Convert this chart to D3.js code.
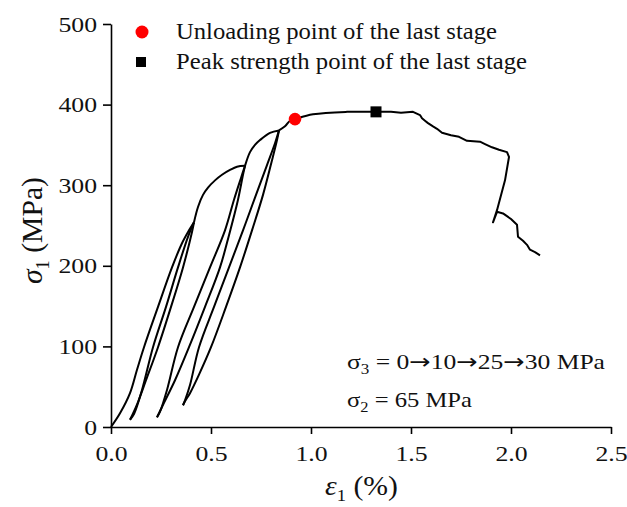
<!DOCTYPE html>
<html>
<head>
<meta charset="utf-8">
<script src="https://cdn.jsdelivr.net/npm/d3@7"></script>
<style>
  html, body { margin: 0; padding: 0; background: #fff; }
  svg { display: block; }
  text { font-family: "Liberation Serif", "Times New Roman", serif; fill: #111; }
</style>
</head>
<body>
<svg id="chart" width="627" height="507"></svg>
<script>
// ---- Data: [strain ε1 (%), stress σ1 (MPa)] ----
const loading1 = [[0,0],[0.045,17],[0.095,42],[0.13,71],[0.165,99],[0.235,149],[0.305,198],[0.355,228],[0.39,244],[0.415,254]];
const unloading1 = [[0.415,254],[0.405,242],[0.36,198],[0.30,149],[0.235,99],[0.175,58],[0.135,31],[0.105,14],[0.095,9]];
const reloading1 = [[0.095,9],[0.115,16],[0.155,46],[0.21,99],[0.275,149],[0.335,198],[0.385,236],[0.415,254]];
const loading2 = [[0.415,254],[0.435,273],[0.46,288],[0.485,297],[0.52,306],[0.555,313],[0.595,319],[0.63,323],[0.67,324]];
const unloading2 = [[0.67,324],[0.66,313],[0.635,282],[0.59,238],[0.545,198],[0.47,149],[0.39,99],[0.32,58],[0.265,30],[0.24,17],[0.23,12]];
const reloading2 = [[0.23,12],[0.245,19],[0.28,46],[0.335,99],[0.415,149],[0.495,198],[0.57,244],[0.615,282],[0.65,309],[0.67,324]];
const loading3 = [[0.67,324],[0.695,341],[0.72,350],[0.745,356],[0.795,365],[0.84,368]];
const unloading3 = [[0.84,368],[0.83,356],[0.805,331],[0.76,288],[0.705,244],[0.645,198],[0.575,149],[0.50,99],[0.44,65],[0.395,42],[0.37,32],[0.36,27]];
const reloading3 = [[0.36,27],[0.37,33],[0.395,52],[0.44,99],[0.515,149],[0.59,198],[0.66,244],[0.725,288],[0.78,325],[0.82,352],[0.84,368]];
const loading4 = [[0.84,368],[0.87,373],[0.895,380],[0.92,382],[1.01,388],[1.18,391],[1.325,391]];
const postPeak = [[1.325,391],[1.40,391],[1.45,390],[1.51,391],[1.545,387],[1.555,383],[1.57,380],[1.585,377],[1.61,373],[1.63,370],[1.655,365],[1.70,362],[1.74,360],[1.78,355],[1.845,354],[1.87,351],[1.905,347],[1.94,344],[1.98,341],[1.99,335],[1.97,306],[1.93,269],[1.91,254],[1.93,267],[1.96,265],[2.0,258],[2.03,251],[2.035,236],[2.06,231],[2.08,226],[2.095,220],[2.12,217],[2.145,213]];

const unloadingPoint = [[0.92,382]];
const peakPoint = [[1.325,391]];

const xTicks = [0,0.5,1.0,1.5,2.0,2.5];
const yTicks = [0,100,200,300,400,500];
const legendLabels = ["Unloading point of the last stage","Peak strength point of the last stage"];
const sigma3Path = ["0","10","25","30"];

// ---- Drawing ----
const svg = d3.select("#chart");
const x = d3.scaleLinear().domain([0,2.5]).range([111,611]);
const y = d3.scaleLinear().domain([0,500]).range([427,24]);

const smooth = d3.line().x(d=>x(d[0])).y(d=>y(d[1])).curve(d3.curveCatmullRom.alpha(0.5));
const straight = d3.line().x(d=>x(d[0])).y(d=>y(d[1]));

[loading1, unloading1, reloading1, loading2, unloading2, reloading2, loading3, unloading3, reloading3, loading4]
  .forEach(seg => svg.append("path").attr("d", smooth(seg))
     .attr("fill","none").attr("stroke","#000").attr("stroke-width",2).attr("stroke-linejoin","round"));
svg.append("path").attr("d", straight(postPeak))
  .attr("fill","none").attr("stroke","#000").attr("stroke-width",2).attr("stroke-linejoin","round");

function stretch(sel, f) {
  sel.each(function() {
    const w = this.getComputedTextLength();
    d3.select(this).attr("textLength", w * f).attr("lengthAdjust", "spacingAndGlyphs");
  });
}
function fitTo(sel, w) { sel.attr("textLength", w).attr("lengthAdjust", "spacingAndGlyphs"); }

// axes
const xAxis = svg.append("g").attr("transform","translate(0,427)")
  .call(d3.axisBottom(x).tickValues(xTicks).tickFormat(d3.format(".1f")).tickSize(7).tickSizeOuter(0).tickPadding(11));
const yAxis = svg.append("g").attr("transform","translate(111,0)")
  .call(d3.axisLeft(y).tickValues(yTicks).tickFormat(d3.format("d")).tickSize(8).tickSizeOuter(0).tickPadding(6));
[xAxis, yAxis].forEach(g => {
  g.selectAll("path,line").attr("stroke","#000").attr("stroke-width",1.6);
  g.selectAll("text").style("font-size","22px").attr("fill","#111")
    .style("font-family","'Liberation Serif','Times New Roman',serif");
  stretch(g.selectAll("text"), 1.17);
});

// markers
svg.selectAll("circle.mk").data(unloadingPoint).enter().append("circle")
  .attr("cx",d=>x(d[0])).attr("cy",d=>y(d[1])).attr("r",6.3).attr("fill","#ff0000");
svg.selectAll("rect.mk").data(peakPoint).enter().append("rect")
  .attr("x",d=>x(d[0])-5.5).attr("y",d=>y(d[1])-5.5).attr("width",11).attr("height",11).attr("fill","#000");

// legend
svg.append("circle").attr("cx",142).attr("cy",32).attr("r",6.5).attr("fill","#ff0000");
svg.append("rect").attr("x",136).attr("y",57).attr("width",10).attr("height",10).attr("fill","#000");
fitTo(svg.append("text").attr("x",176).attr("y",39).style("font-size","22.5px").text(legendLabels[0]), 321);
fitTo(svg.append("text").attr("x",176).attr("y",69).style("font-size","22.5px").text(legendLabels[1]), 351);

// annotation
const a1 = svg.append("text").attr("x",347).attr("y",369).style("font-size","21px");
a1.append("tspan").text("σ");
a1.append("tspan").attr("dy",5).style("font-size","14px").text("3");
a1.append("tspan").attr("dy",-5).text(" = ");
sigma3Path.forEach((v,i) => {
  if (i > 0) a1.append("tspan").style("font-family","'DejaVu Sans'").style("font-size","21px").text("→");
  a1.append("tspan").text(v);
});
a1.append("tspan").text(" MPa");
fitTo(a1, 258);
const a2 = svg.append("text").attr("x",347).attr("y",407).style("font-size","21px");
a2.append("tspan").text("σ");
a2.append("tspan").attr("dy",5).style("font-size","14px").text("2");
a2.append("tspan").attr("dy",-5).text(" = 65 MPa");
fitTo(a2, 125);

// axis titles
const xt = svg.append("text").attr("x",325).attr("y",495).style("font-size","27px");
xt.append("tspan").style("font-style","italic").text("ε");
xt.append("tspan").attr("dy",6).style("font-size","17px").text("1");
xt.append("tspan").attr("dy",-6).text(" (%)");
fitTo(xt, 73);

const yt = svg.append("text").attr("transform","translate(42,284) rotate(-90)").style("font-size","29px");
yt.append("tspan").style("font-style","italic").text("σ");
yt.append("tspan").attr("dy",7).style("font-size","18px").text("1");
yt.append("tspan").attr("dy",-7).text(" (MPa)");
fitTo(yt, 107);
</script>
</body>
</html>
